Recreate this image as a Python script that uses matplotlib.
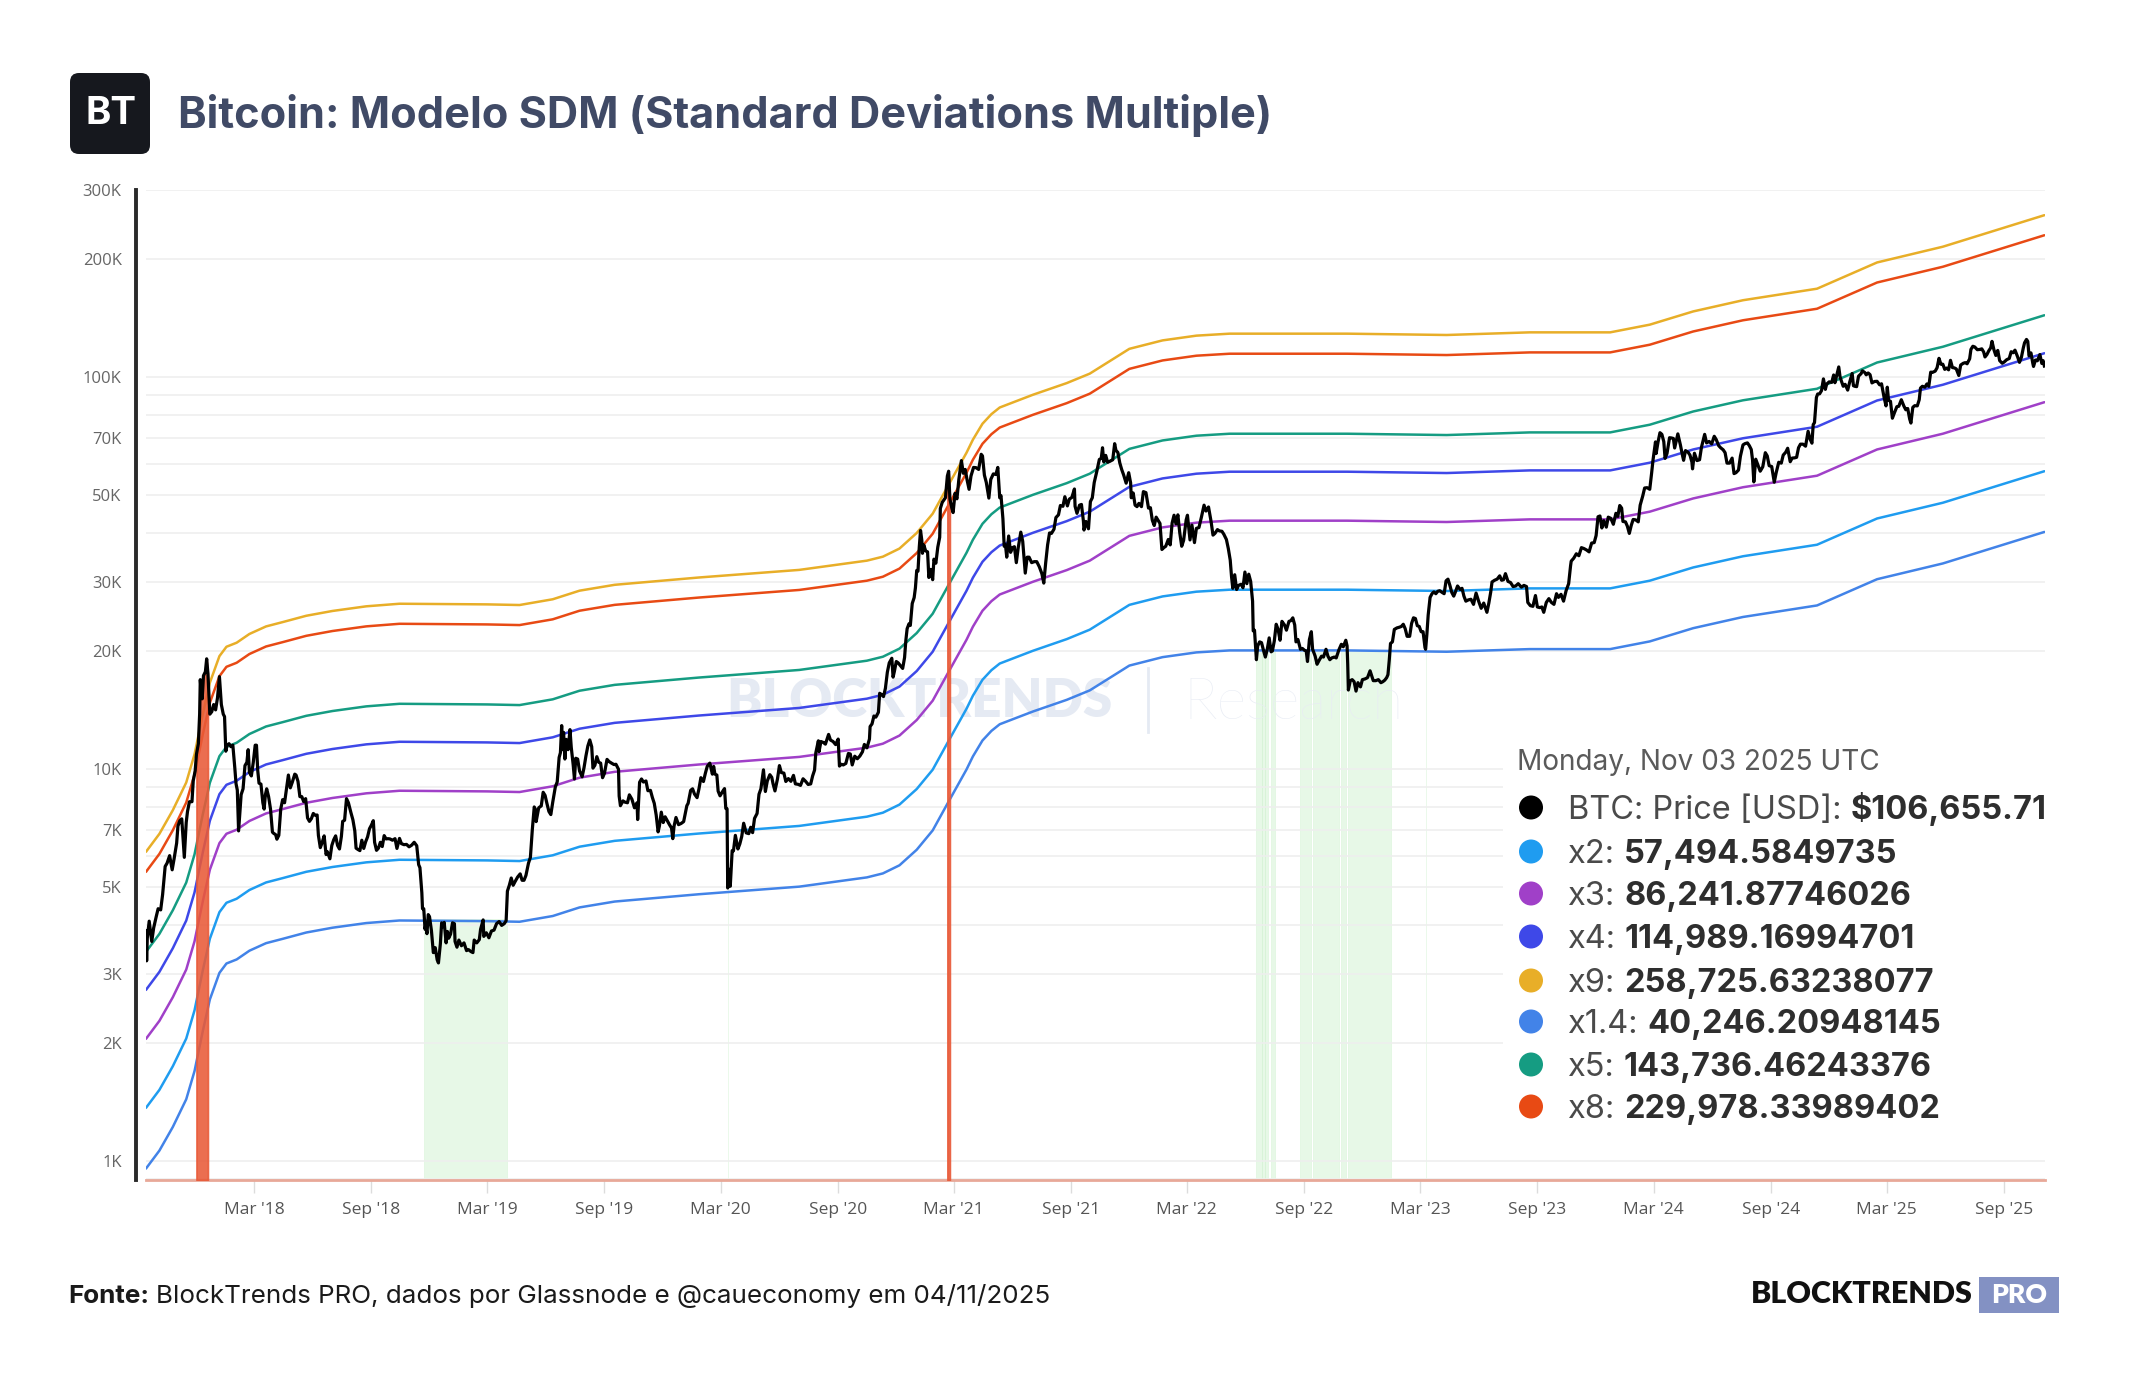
import matplotlib
matplotlib.use("Agg")
import matplotlib.pyplot as plt
import matplotlib.ticker as mticker
from matplotlib.patches import FancyBboxPatch, Rectangle, Ellipse
from matplotlib.lines import Line2D
import numpy as np
import pandas as pd

W, H, DPI = 2144, 1400, 100

# ---------------- DATA ----------------
btc_2017 = [("2017-09-13", 3870), ("2017-09-14", 3240), ("2017-09-15", 3700), ("2017-09-18", 4090), ("2017-09-22", 3630),
            ("2017-09-25", 3930), ("2017-09-29", 4200), ("2017-10-02", 4400), ("2017-10-06", 4370), ("2017-10-09", 4780),
            ("2017-10-12", 5430), ("2017-10-13", 5640), ("2017-10-16", 5750), ("2017-10-20", 6010), ("2017-10-24", 5530),
            ("2017-10-27", 5900), ("2017-10-31", 6470), ("2017-11-02", 7150), ("2017-11-05", 7380), ("2017-11-08", 7460),
            ("2017-11-12", 5950), ("2017-11-15", 7310), ("2017-11-17", 7790), ("2017-11-20", 8250), ("2017-11-24", 8250),
            ("2017-11-26", 9330), ("2017-11-29", 9890), ("2017-12-01", 10900), ("2017-12-04", 11600), ("2017-12-06", 13800),
            ("2017-12-07", 16900), ("2017-12-08", 16100), ("2017-12-10", 15100), ("2017-12-12", 17300), ("2017-12-15", 17700),
            ("2017-12-17", 19100), ("2017-12-19", 17500), ("2017-12-22", 13800), ("2017-12-25", 14000), ("2017-12-28", 14600),
            ("2017-12-31", 14150)]
btc_2018 = [("2018-01-03", 15200), ("2018-01-06", 17200), ("2018-01-09", 14600), ("2018-01-12", 13800), ("2018-01-14", 13600),
            ("2018-01-16", 11100), ("2018-01-18", 11500), ("2018-01-21", 11600), ("2018-01-24", 11400), ("2018-01-27", 11500),
            ("2018-01-30", 10100), ("2018-02-01", 9170), ("2018-02-03", 8830), ("2018-02-05", 6950), ("2018-02-07", 7700),
            ("2018-02-09", 8600), ("2018-02-12", 8900), ("2018-02-15", 10200), ("2018-02-18", 10400), ("2018-02-20", 11200),
            ("2018-02-22", 9800), ("2018-02-25", 9600), ("2018-02-28", 10400), ("2018-03-03", 11500), ("2018-03-05", 11500),
            ("2018-03-07", 9900), ("2018-03-09", 9200), ("2018-03-12", 9150), ("2018-03-15", 8200), ("2018-03-17", 7900),
            ("2018-03-19", 8600), ("2018-03-21", 8900), ("2018-03-24", 8500), ("2018-03-27", 7900), ("2018-03-30", 6900),
            ("2018-04-01", 6850), ("2018-04-04", 6800), ("2018-04-06", 6620), ("2018-04-09", 6770), ("2018-04-12", 7900),
            ("2018-04-15", 8350), ("2018-04-18", 8200), ("2018-04-21", 8900), ("2018-04-24", 9650), ("2018-04-27", 8950),
            ("2018-04-30", 9240), ("2018-05-04", 9700), ("2018-05-06", 9650), ("2018-05-09", 9300), ("2018-05-12", 8500),
            ("2018-05-15", 8500), ("2018-05-18", 8250), ("2018-05-21", 8400), ("2018-05-24", 7500), ("2018-05-27", 7350),
            ("2018-05-30", 7470), ("2018-06-02", 7700), ("2018-06-05", 7620), ("2018-06-08", 7630), ("2018-06-10", 6770),
            ("2018-06-13", 6300), ("2018-06-16", 6500), ("2018-06-19", 6750), ("2018-06-22", 6050), ("2018-06-24", 6150),
            ("2018-06-28", 5900), ("2018-07-01", 6380), ("2018-07-04", 6600), ("2018-07-07", 6750), ("2018-07-10", 6380),
            ("2018-07-13", 6250), ("2018-07-16", 6730), ("2018-07-18", 7350), ("2018-07-21", 7400), ("2018-07-24", 8400),
            ("2018-07-27", 8200), ("2018-07-31", 7730), ("2018-08-03", 7420), ("2018-08-06", 6950), ("2018-08-08", 6280),
            ("2018-08-11", 6230), ("2018-08-14", 6190), ("2018-08-17", 6580), ("2018-08-20", 6270), ("2018-08-23", 6520),
            ("2018-08-26", 6710), ("2018-08-29", 7040), ("2018-09-01", 7190), ("2018-09-04", 7380), ("2018-09-06", 6500),
            ("2018-09-09", 6200), ("2018-09-12", 6280), ("2018-09-15", 6500), ("2018-09-18", 6340), ("2018-09-21", 6760),
            ("2018-09-24", 6630), ("2018-09-27", 6640), ("2018-09-30", 6630), ("2018-10-04", 6580), ("2018-10-08", 6640),
            ("2018-10-11", 6270), ("2018-10-15", 6650), ("2018-10-18", 6450), ("2018-10-22", 6410), ("2018-10-26", 6420),
            ("2018-10-30", 6330), ("2018-11-03", 6390), ("2018-11-07", 6500), ("2018-11-11", 6370), ("2018-11-14", 5700),
            ("2018-11-16", 5600), ("2018-11-19", 4830), ("2018-11-20", 4400), ("2018-11-22", 4400), ("2018-11-24", 3900),
            ("2018-11-25", 4000), ("2018-11-27", 3800), ("2018-11-29", 4250), ("2018-12-01", 4200), ("2018-12-04", 3870),
            ("2018-12-07", 3400), ("2018-12-10", 3500), ("2018-12-13", 3260), ("2018-12-15", 3200), ("2018-12-18", 3580),
            ("2018-12-20", 4050), ("2018-12-22", 3960), ("2018-12-24", 4060), ("2018-12-27", 3600), ("2018-12-29", 3850),
            ("2018-12-31", 3700)]
btc_2019 = [("2019-01-03", 3790), ("2019-01-06", 4050), ("2019-01-09", 4030), ("2019-01-10", 3630), ("2019-01-13", 3510),
            ("2019-01-16", 3660), ("2019-01-20", 3540), ("2019-01-24", 3600), ("2019-01-28", 3440), ("2019-01-31", 3460),
            ("2019-02-04", 3420), ("2019-02-07", 3400), ("2019-02-09", 3660), ("2019-02-13", 3600), ("2019-02-17", 3670),
            ("2019-02-19", 3900), ("2019-02-23", 4120), ("2019-02-24", 3740), ("2019-02-28", 3820), ("2019-03-04", 3710),
            ("2019-03-08", 3860), ("2019-03-12", 3880), ("2019-03-16", 4030), ("2019-03-20", 4080), ("2019-03-24", 3990),
            ("2019-03-28", 4030), ("2019-03-31", 4100), ("2019-04-02", 4880), ("2019-04-05", 5050), ("2019-04-08", 5270),
            ("2019-04-11", 5050), ("2019-04-14", 5160), ("2019-04-18", 5300), ("2019-04-22", 5400), ("2019-04-25", 5200),
            ("2019-04-28", 5200), ("2019-05-01", 5350), ("2019-05-05", 5750), ("2019-05-08", 5950), ("2019-05-11", 7000),
            ("2019-05-14", 8000), ("2019-05-16", 7880), ("2019-05-17", 7340), ("2019-05-21", 7960), ("2019-05-25", 8050),
            ("2019-05-28", 8720), ("2019-05-31", 8560), ("2019-06-03", 8150), ("2019-06-06", 7790), ("2019-06-09", 7650),
            ("2019-06-12", 8230), ("2019-06-16", 8990), ("2019-06-19", 9270), ("2019-06-22", 10700), ("2019-06-24", 11000),
            ("2019-06-26", 12900), ("2019-06-27", 11200), ("2019-06-29", 12400), ("2019-07-01", 10600), ("2019-07-03", 11900),
            ("2019-07-06", 11200), ("2019-07-09", 12600), ("2019-07-11", 11350), ("2019-07-14", 10250), ("2019-07-16", 9430),
            ("2019-07-18", 10650), ("2019-07-21", 10600), ("2019-07-24", 9880), ("2019-07-28", 9550), ("2019-07-31", 10080),
            ("2019-08-03", 10800), ("2019-08-06", 11450), ("2019-08-09", 11860), ("2019-08-12", 11400), ("2019-08-14", 10050),
            ("2019-08-17", 10220), ("2019-08-20", 10750), ("2019-08-23", 10400), ("2019-08-26", 10350), ("2019-08-29", 9500),
            ("2019-09-01", 9750), ("2019-09-05", 10580), ("2019-09-08", 10450), ("2019-09-12", 10350), ("2019-09-16", 10260),
            ("2019-09-19", 10280), ("2019-09-23", 9980), ("2019-09-24", 8530), ("2019-09-26", 8060), ("2019-09-30", 8290),
            ("2019-10-03", 8230), ("2019-10-07", 8200), ("2019-10-10", 8590), ("2019-10-14", 8370), ("2019-10-18", 7960),
            ("2019-10-22", 8200), ("2019-10-23", 7430), ("2019-10-25", 8650), ("2019-10-26", 9250), ("2019-10-29", 9430),
            ("2019-11-01", 9260), ("2019-11-05", 9320), ("2019-11-08", 8800), ("2019-11-12", 8820), ("2019-11-15", 8460),
            ("2019-11-18", 8170), ("2019-11-21", 7630), ("2019-11-24", 6910), ("2019-11-26", 7150), ("2019-11-29", 7760),
            ("2019-12-02", 7300), ("2019-12-05", 7550), ("2019-12-09", 7350), ("2019-12-12", 7200), ("2019-12-15", 7070),
            ("2019-12-17", 6640), ("2019-12-19", 7150), ("2019-12-22", 7520), ("2019-12-26", 7210), ("2019-12-30", 7260)]
btc_2020 = [("2020-01-03", 7340), ("2020-01-06", 7760), ("2020-01-08", 8060), ("2020-01-10", 8170), ("2020-01-14", 8820),
            ("2020-01-17", 8900), ("2020-01-20", 8630), ("2020-01-24", 8450), ("2020-01-27", 8900), ("2020-01-30", 9500),
            ("2020-02-03", 9290), ("2020-02-06", 9750), ("2020-02-09", 10160), ("2020-02-13", 10350), ("2020-02-17", 9700),
            ("2020-02-19", 10150), ("2020-02-21", 9700), ("2020-02-24", 9650), ("2020-02-26", 8780), ("2020-02-29", 8540),
            ("2020-03-04", 8760), ("2020-03-07", 8910), ("2020-03-09", 7930), ("2020-03-11", 7910), ("2020-03-12", 4970),
            ("2020-03-13", 5560), ("2020-03-16", 5020), ("2020-03-19", 6190), ("2020-03-21", 6180), ("2020-03-24", 6770),
            ("2020-03-28", 6250), ("2020-03-31", 6440), ("2020-04-03", 6730), ("2020-04-06", 7270), ("2020-04-10", 6870),
            ("2020-04-14", 6840), ("2020-04-17", 7100), ("2020-04-20", 6880), ("2020-04-23", 7480), ("2020-04-27", 7700),
            ("2020-04-30", 8620), ("2020-05-03", 8900), ("2020-05-07", 9950), ("2020-05-10", 8760), ("2020-05-13", 9320),
            ("2020-05-17", 9670), ("2020-05-20", 9520), ("2020-05-22", 9170), ("2020-05-25", 8790), ("2020-05-29", 9440),
            ("2020-06-01", 10200), ("2020-06-04", 9790), ("2020-06-08", 9760), ("2020-06-11", 9290), ("2020-06-15", 9450),
            ("2020-06-19", 9300), ("2020-06-23", 9630), ("2020-06-26", 9160), ("2020-06-30", 9140), ("2020-07-04", 9080),
            ("2020-07-08", 9440), ("2020-07-12", 9300), ("2020-07-16", 9130), ("2020-07-20", 9160), ("2020-07-23", 9600),
            ("2020-07-26", 9930), ("2020-07-28", 11000), ("2020-08-01", 11800), ("2020-08-02", 11070), ("2020-08-05", 11750),
            ("2020-08-09", 11680), ("2020-08-12", 11570), ("2020-08-17", 12250), ("2020-08-20", 11850), ("2020-08-24", 11750),
            ("2020-08-28", 11540), ("2020-09-01", 11920), ("2020-09-03", 10170), ("2020-09-06", 10280), ("2020-09-09", 10240),
            ("2020-09-13", 10330), ("2020-09-17", 10950), ("2020-09-20", 10920), ("2020-09-23", 10240), ("2020-09-27", 10780),
            ("2020-10-01", 10620), ("2020-10-05", 10790), ("2020-10-09", 11060), ("2020-10-12", 11550), ("2020-10-16", 11320),
            ("2020-10-20", 11920), ("2020-10-21", 12830), ("2020-10-24", 13030), ("2020-10-27", 13650), ("2020-10-30", 13560),
            ("2020-11-03", 13950), ("2020-11-05", 15600), ("2020-11-08", 15480), ("2020-11-11", 15300), ("2020-11-14", 16070),
            ("2020-11-17", 17650), ("2020-11-20", 18650), ("2020-11-24", 19160), ("2020-11-26", 17150), ("2020-11-28", 17730),
            ("2020-12-01", 18800), ("2020-12-04", 18650), ("2020-12-08", 18300), ("2020-12-11", 18050), ("2020-12-14", 19250),
            ("2020-12-16", 21300), ("2020-12-18", 22800), ("2020-12-21", 23480), ("2020-12-23", 23240), ("2020-12-26", 26440),
            ("2020-12-29", 27360), ("2020-12-31", 29000)]
btc_2021 = [("2021-01-02", 32100), ("2021-01-04", 31970), ("2021-01-06", 36800), ("2021-01-08", 40600), ("2021-01-10", 38300),
            ("2021-01-11", 35500), ("2021-01-13", 37300), ("2021-01-16", 36000), ("2021-01-19", 35800), ("2021-01-21", 30800),
            ("2021-01-24", 32300), ("2021-01-27", 30400), ("2021-01-29", 34300), ("2021-02-01", 33500), ("2021-02-04", 36800),
            ("2021-02-07", 39000), ("2021-02-08", 46200), ("2021-02-11", 47900), ("2021-02-14", 48700), ("2021-02-16", 49200),
            ("2021-02-19", 55900), ("2021-02-21", 57500), ("2021-02-23", 48800), ("2021-02-26", 46300), ("2021-02-28", 45100),
            ("2021-03-03", 50500), ("2021-03-06", 48900), ("2021-03-09", 54800), ("2021-03-13", 61200), ("2021-03-16", 56800),
            ("2021-03-19", 58100), ("2021-03-22", 54500), ("2021-03-25", 51700), ("2021-03-28", 55900), ("2021-04-01", 58800),
            ("2021-04-05", 58700), ("2021-04-09", 58100), ("2021-04-13", 63500), ("2021-04-15", 62900), ("2021-04-18", 56200),
            ("2021-04-21", 53800), ("2021-04-25", 49100), ("2021-04-28", 54800), ("2021-05-02", 56600), ("2021-05-06", 56400),
            ("2021-05-09", 58800), ("2021-05-12", 49200), ("2021-05-14", 49800), ("2021-05-17", 43500), ("2021-05-19", 37000),
            ("2021-05-21", 37300), ("2021-05-23", 34700), ("2021-05-26", 39300), ("2021-05-29", 35700), ("2021-06-01", 36700),
            ("2021-06-04", 36900), ("2021-06-07", 33600), ("2021-06-10", 36700), ("2021-06-14", 40200), ("2021-06-17", 38100),
            ("2021-06-21", 31600), ("2021-06-24", 34700), ("2021-06-27", 34700), ("2021-07-01", 33600), ("2021-07-05", 33800),
            ("2021-07-09", 33800), ("2021-07-13", 32800), ("2021-07-17", 31500), ("2021-07-20", 29800), ("2021-07-23", 33600),
            ("2021-07-26", 37300), ("2021-07-29", 40000), ("2021-08-01", 39900), ("2021-08-05", 40900), ("2021-08-08", 43800),
            ("2021-08-12", 44500), ("2021-08-15", 47000), ("2021-08-19", 46800), ("2021-08-22", 49500), ("2021-08-26", 46900),
            ("2021-08-29", 48800), ("2021-09-02", 49300), ("2021-09-06", 51800), ("2021-09-07", 46800), ("2021-09-10", 44900),
            ("2021-09-14", 47100), ("2021-09-17", 47300), ("2021-09-20", 43000), ("2021-09-21", 40700), ("2021-09-24", 42800),
            ("2021-09-28", 41000), ("2021-10-01", 48100), ("2021-10-04", 49200), ("2021-10-07", 53800), ("2021-10-11", 57400),
            ("2021-10-15", 61600), ("2021-10-18", 62000), ("2021-10-20", 66000), ("2021-10-22", 60700), ("2021-10-25", 63100),
            ("2021-10-28", 60600), ("2021-11-01", 61000), ("2021-11-05", 61500), ("2021-11-08", 67600), ("2021-11-10", 65000),
            ("2021-11-13", 64200), ("2021-11-16", 60400), ("2021-11-19", 58100), ("2021-11-22", 56300), ("2021-11-26", 53600),
            ("2021-11-30", 57000), ("2021-12-03", 53700), ("2021-12-04", 49200), ("2021-12-07", 50600), ("2021-12-10", 47100),
            ("2021-12-13", 46700), ("2021-12-16", 47600), ("2021-12-20", 46700), ("2021-12-23", 51000), ("2021-12-27", 50700),
            ("2021-12-31", 46300)]
btc_2022 = [("2022-01-03", 46400), ("2022-01-06", 43100), ("2022-01-09", 41800), ("2022-01-12", 43900), ("2022-01-15", 43100),
            ("2022-01-18", 42300), ("2022-01-21", 36300), ("2022-01-24", 36700), ("2022-01-27", 37000), ("2022-01-31", 38500),
            ("2022-02-03", 37300), ("2022-02-06", 42400), ("2022-02-09", 44400), ("2022-02-12", 42200), ("2022-02-15", 44500),
            ("2022-02-18", 40000), ("2022-02-21", 37000), ("2022-02-24", 38300), ("2022-02-28", 43200), ("2022-03-02", 44400),
            ("2022-03-06", 38400), ("2022-03-09", 41900), ("2022-03-13", 37800), ("2022-03-16", 41100), ("2022-03-20", 41300),
            ("2022-03-24", 44000), ("2022-03-28", 47100), ("2022-03-31", 45500), ("2022-04-04", 46600), ("2022-04-08", 42800),
            ("2022-04-11", 39500), ("2022-04-14", 39900), ("2022-04-18", 40800), ("2022-04-21", 40500), ("2022-04-25", 40400),
            ("2022-04-28", 39700), ("2022-05-02", 38500), ("2022-05-05", 36500), ("2022-05-08", 34100), ("2022-05-10", 31000),
            ("2022-05-12", 28900), ("2022-05-15", 31300), ("2022-05-18", 28700), ("2022-05-21", 29400), ("2022-05-25", 29600),
            ("2022-05-28", 29000), ("2022-05-31", 31800), ("2022-06-03", 29700), ("2022-06-06", 31400), ("2022-06-09", 30100),
            ("2022-06-12", 26800), ("2022-06-13", 22500), ("2022-06-15", 22600), ("2022-06-18", 19000), ("2022-06-20", 20600),
            ("2022-06-23", 21100), ("2022-06-26", 21000), ("2022-06-29", 20100), ("2022-07-02", 19300), ("2022-07-05", 20200),
            ("2022-07-08", 21600), ("2022-07-11", 19900), ("2022-07-13", 20000), ("2022-07-16", 21200), ("2022-07-19", 23400),
            ("2022-07-22", 22700), ("2022-07-25", 21300), ("2022-07-28", 23800), ("2022-08-01", 23300), ("2022-08-04", 22600),
            ("2022-08-08", 23800), ("2022-08-11", 23900), ("2022-08-14", 24300), ("2022-08-17", 23300), ("2022-08-19", 21100),
            ("2022-08-22", 21400), ("2022-08-26", 20200), ("2022-08-29", 20300), ("2022-09-01", 20100), ("2022-09-04", 19990),
            ("2022-09-06", 18800), ("2022-09-09", 21400), ("2022-09-12", 22400), ("2022-09-14", 20200), ("2022-09-18", 19400),
            ("2022-09-21", 18500), ("2022-09-24", 18900), ("2022-09-28", 19400), ("2022-10-01", 19300), ("2022-10-05", 20200),
            ("2022-10-08", 19400), ("2022-10-11", 19000), ("2022-10-14", 19200), ("2022-10-18", 19300), ("2022-10-21", 19200),
            ("2022-10-25", 20100), ("2022-10-29", 20800), ("2022-11-01", 20500), ("2022-11-05", 21300), ("2022-11-07", 20600),
            ("2022-11-08", 18500), ("2022-11-09", 15900), ("2022-11-12", 16800), ("2022-11-15", 16900), ("2022-11-18", 16700),
            ("2022-11-21", 15800), ("2022-11-24", 16600), ("2022-11-28", 16200), ("2022-12-01", 16900), ("2022-12-05", 16970),
            ("2022-12-09", 17100), ("2022-12-13", 17800), ("2022-12-15", 17400), ("2022-12-18", 16800), ("2022-12-22", 16800),
            ("2022-12-26", 16900), ("2022-12-30", 16600)]
btc_2023 = [("2023-01-02", 16700), ("2023-01-05", 16850), ("2023-01-08", 17100), ("2023-01-10", 17400), ("2023-01-12", 18900),
            ("2023-01-14", 20900), ("2023-01-17", 21100), ("2023-01-20", 22700), ("2023-01-24", 22900), ("2023-01-28", 23000),
            ("2023-01-31", 23100), ("2023-02-03", 23400), ("2023-02-06", 22800), ("2023-02-09", 21800), ("2023-02-13", 21800),
            ("2023-02-16", 23500), ("2023-02-19", 24300), ("2023-02-22", 24200), ("2023-02-25", 23200), ("2023-02-28", 23100),
            ("2023-03-03", 22400), ("2023-03-06", 22400), ("2023-03-09", 20400), ("2023-03-10", 20200), ("2023-03-12", 22100),
            ("2023-03-14", 24700), ("2023-03-17", 27400), ("2023-03-20", 28000), ("2023-03-23", 28300), ("2023-03-26", 28000),
            ("2023-03-29", 28400), ("2023-04-01", 28500), ("2023-04-05", 28200), ("2023-04-08", 28000), ("2023-04-11", 30200),
            ("2023-04-14", 30500), ("2023-04-17", 29400), ("2023-04-20", 28200), ("2023-04-23", 27600), ("2023-04-26", 28400),
            ("2023-04-29", 29300), ("2023-05-03", 28700), ("2023-05-06", 28900), ("2023-05-09", 27600), ("2023-05-12", 26800),
            ("2023-05-16", 27000), ("2023-05-20", 27100), ("2023-05-24", 26300), ("2023-05-28", 28100), ("2023-06-01", 26800),
            ("2023-06-05", 25700), ("2023-06-09", 26500), ("2023-06-14", 25100), ("2023-06-17", 26500), ("2023-06-20", 28300),
            ("2023-06-22", 30000), ("2023-06-26", 30300), ("2023-06-30", 30500), ("2023-07-04", 31100), ("2023-07-07", 30300),
            ("2023-07-10", 30400), ("2023-07-13", 31500), ("2023-07-17", 30100), ("2023-07-21", 29900), ("2023-07-25", 29200),
            ("2023-07-29", 29300), ("2023-08-02", 29700), ("2023-08-07", 29100), ("2023-08-11", 29400), ("2023-08-15", 29200),
            ("2023-08-17", 26600), ("2023-08-21", 26100), ("2023-08-25", 26000), ("2023-08-29", 27700), ("2023-09-01", 25900),
            ("2023-09-05", 25800), ("2023-09-08", 25900), ("2023-09-11", 25100), ("2023-09-15", 26600), ("2023-09-19", 27200),
            ("2023-09-23", 26600), ("2023-09-27", 26300), ("2023-10-01", 28000), ("2023-10-04", 27400), ("2023-10-08", 27900),
            ("2023-10-12", 26800), ("2023-10-16", 28500), ("2023-10-20", 29700), ("2023-10-23", 33000), ("2023-10-24", 33900),
            ("2023-10-28", 34500), ("2023-11-01", 35400), ("2023-11-05", 35000), ("2023-11-09", 36700), ("2023-11-13", 36500),
            ("2023-11-17", 36200), ("2023-11-21", 35800), ("2023-11-25", 37700), ("2023-11-29", 37800), ("2023-12-02", 39400),
            ("2023-12-05", 44000), ("2023-12-08", 44200), ("2023-12-11", 41200), ("2023-12-14", 43000), ("2023-12-18", 41400),
            ("2023-12-21", 43900), ("2023-12-25", 43600), ("2023-12-29", 42100)]
btc_2024 = [("2024-01-02", 44900), ("2024-01-05", 44100), ("2024-01-08", 47000), ("2024-01-11", 46300), ("2024-01-13", 42800),
            ("2024-01-17", 42700), ("2024-01-20", 41600), ("2024-01-23", 39900), ("2024-01-26", 41800), ("2024-01-29", 43300),
            ("2024-02-02", 43200), ("2024-02-06", 42700), ("2024-02-09", 47100), ("2024-02-13", 49700), ("2024-02-16", 52100),
            ("2024-02-20", 52200), ("2024-02-24", 51700), ("2024-02-27", 57000), ("2024-02-29", 61200), ("2024-03-04", 68300),
            ("2024-03-05", 63800), ("2024-03-08", 68300), ("2024-03-11", 72100), ("2024-03-14", 71400), ("2024-03-17", 68400),
            ("2024-03-19", 62000), ("2024-03-22", 63800), ("2024-03-26", 70000), ("2024-03-29", 69900), ("2024-04-01", 69700),
            ("2024-04-03", 65900), ("2024-04-08", 71600), ("2024-04-12", 67100), ("2024-04-15", 63400), ("2024-04-17", 61300),
            ("2024-04-20", 64900), ("2024-04-24", 64300), ("2024-04-27", 63200), ("2024-04-30", 60700), ("2024-05-01", 58300),
            ("2024-05-04", 63900), ("2024-05-08", 61200), ("2024-05-12", 61500), ("2024-05-15", 66200), ("2024-05-20", 71400),
            ("2024-05-23", 67900), ("2024-05-27", 68500), ("2024-05-31", 67500), ("2024-06-04", 70600), ("2024-06-07", 69300),
            ("2024-06-11", 66800), ("2024-06-14", 66000), ("2024-06-18", 65200), ("2024-06-21", 64100), ("2024-06-24", 60300),
            ("2024-06-28", 60300), ("2024-07-02", 62100), ("2024-07-05", 56700), ("2024-07-08", 57000), ("2024-07-12", 57900),
            ("2024-07-15", 62800), ("2024-07-19", 67100), ("2024-07-22", 67600), ("2024-07-26", 67900), ("2024-07-29", 66800),
            ("2024-08-01", 65300), ("2024-08-03", 61400), ("2024-08-05", 54000), ("2024-08-08", 61700), ("2024-08-12", 59300),
            ("2024-08-15", 57500), ("2024-08-19", 59000), ("2024-08-23", 64100), ("2024-08-26", 62900), ("2024-08-29", 59400),
            ("2024-09-02", 59100), ("2024-09-06", 53900), ("2024-09-09", 57000), ("2024-09-13", 60600), ("2024-09-17", 60300),
            ("2024-09-20", 63200), ("2024-09-24", 64300), ("2024-09-27", 65800), ("2024-10-01", 60800), ("2024-10-04", 62100),
            ("2024-10-08", 62200), ("2024-10-11", 62400), ("2024-10-14", 66000), ("2024-10-17", 67400), ("2024-10-21", 67400),
            ("2024-10-25", 66600), ("2024-10-29", 72700), ("2024-11-01", 69500), ("2024-11-04", 67800), ("2024-11-06", 75600),
            ("2024-11-08", 76500), ("2024-11-11", 88700), ("2024-11-13", 90500), ("2024-11-16", 90600), ("2024-11-19", 92300),
            ("2024-11-22", 98900), ("2024-11-25", 93000), ("2024-11-27", 95900), ("2024-12-01", 97200), ("2024-12-05", 96900),
            ("2024-12-08", 101200), ("2024-12-10", 96700), ("2024-12-13", 101400), ("2024-12-16", 106100), ("2024-12-18", 100200),
            ("2024-12-20", 97800), ("2024-12-23", 94700), ("2024-12-26", 95800), ("2024-12-30", 92600)]
btc_2025 = [("2025-01-02", 96900), ("2025-01-06", 102100), ("2025-01-08", 95000), ("2025-01-10", 94700), ("2025-01-13", 94500),
            ("2025-01-16", 100500), ("2025-01-20", 102000), ("2025-01-22", 103700), ("2025-01-26", 102600), ("2025-01-28", 101300),
            ("2025-01-31", 102400), ("2025-02-03", 101400), ("2025-02-06", 96600), ("2025-02-10", 97400), ("2025-02-14", 97500),
            ("2025-02-18", 95500), ("2025-02-21", 96100), ("2025-02-25", 88700), ("2025-02-28", 84400), ("2025-03-02", 94200),
            ("2025-03-04", 87200), ("2025-03-07", 86700), ("2025-03-10", 78500), ("2025-03-13", 80900), ("2025-03-17", 84000),
            ("2025-03-20", 84200), ("2025-03-24", 87500), ("2025-03-28", 84300), ("2025-03-31", 82500), ("2025-04-03", 83100),
            ("2025-04-06", 78200), ("2025-04-08", 76300), ("2025-04-11", 83700), ("2025-04-14", 84500), ("2025-04-18", 84400),
            ("2025-04-21", 87500), ("2025-04-23", 93700), ("2025-04-26", 94700), ("2025-04-30", 94200), ("2025-05-03", 96000),
            ("2025-05-06", 94700), ("2025-05-09", 102900), ("2025-05-12", 102800), ("2025-05-16", 103500), ("2025-05-19", 105600),
            ("2025-05-22", 111600), ("2025-05-25", 107800), ("2025-05-28", 107800), ("2025-05-31", 104600), ("2025-06-03", 105400),
            ("2025-06-06", 104300), ("2025-06-09", 110300), ("2025-06-12", 105700), ("2025-06-15", 105500), ("2025-06-18", 104900),
            ("2025-06-22", 100900), ("2025-06-25", 107300), ("2025-06-29", 108400), ("2025-07-02", 108800), ("2025-07-05", 108100),
            ("2025-07-09", 111300), ("2025-07-11", 117600), ("2025-07-14", 119800), ("2025-07-17", 119300), ("2025-07-21", 117400),
            ("2025-07-25", 117600), ("2025-07-28", 118000), ("2025-07-31", 115800), ("2025-08-02", 112500), ("2025-08-05", 114100),
            ("2025-08-08", 116700), ("2025-08-11", 118700), ("2025-08-13", 123300), ("2025-08-16", 117400), ("2025-08-19", 113500),
            ("2025-08-22", 116900), ("2025-08-25", 110100), ("2025-08-29", 108400), ("2025-09-01", 109200), ("2025-09-05", 110700),
            ("2025-09-09", 111500), ("2025-09-12", 116000), ("2025-09-15", 115300), ("2025-09-18", 117100), ("2025-09-22", 112700),
            ("2025-09-25", 109000), ("2025-09-28", 112200), ("2025-10-01", 118600), ("2025-10-03", 122300), ("2025-10-06", 124700),
            ("2025-10-08", 123300), ("2025-10-10", 113200), ("2025-10-13", 115200), ("2025-10-16", 108200), ("2025-10-17", 106400),
            ("2025-10-20", 110500), ("2025-10-23", 110000), ("2025-10-27", 114100), ("2025-10-30", 108300), ("2025-11-01", 110100),
            ("2025-11-03", 106655.71)]

band_dates = ["2017-09-13", "2017-10-04", "2017-10-25", "2017-11-15", "2017-11-28", "2017-12-11", "2017-12-22",
              "2018-01-06", "2018-01-17", "2018-02-02", "2018-02-22", "2018-03-20", "2018-04-15", "2018-05-22",
              "2018-07-02", "2018-08-24", "2018-10-15", "2019-03-01", "2019-04-21", "2019-06-12", "2019-07-24",
              "2019-09-17", "2020-01-27", "2020-07-02", "2020-10-16", "2020-11-10", "2020-12-06", "2021-01-02",
              "2021-01-27", "2021-02-21", "2021-03-21", "2021-03-31", "2021-04-15", "2021-04-29", "2021-05-12",
              "2021-06-07", "2021-07-03", "2021-08-25", "2021-09-30", "2021-11-05", "2021-12-01", "2022-01-22",
              "2022-03-16", "2022-05-07", "2022-11-07", "2023-04-12", "2023-08-20", "2023-12-24", "2024-02-24",
              "2024-05-02", "2024-07-19", "2024-11-12", "2025-02-14", "2025-05-28", "2025-11-03"]
band_base = [683, 759, 872, 1026, 1211, 1533, 1844,
             2156, 2278, 2333, 2456, 2567, 2633, 2733,
             2811, 2889, 2933, 2922, 2911, 3011, 3167,
             3278, 3422, 3578, 3778, 3867, 4056, 4444,
             4978, 5900, 7122, 7689, 8444, 8933, 9289,
             9644, 10011, 10722, 11333, 12333, 13111, 13778,
             14167, 14333, 14333, 14222, 14444, 14444, 15111,
             16333, 17444, 18667, 21778, 23889, 28747.29]

band_names = ["x2", "x3", "x4", "x9", "x1.4", "x5", "x8"]
band_mults = [2, 3, 4, 9, 1.4, 5, 8]
band_colors = ["#1f9cf0", "#a040c8", "#3e48e8", "#e8ae28", "#4283e8", "#159c82", "#e84a14"]
band_last_values = ["57,494.5849735", "86,241.87746026", "114,989.16994701", "258,725.63238077",
                    "40,246.20948145", "143,736.46243376", "229,978.33989402"]
btc_last_value = "$106,655.71"
legend_date = "Monday, Nov 03 2025 UTC"

# highlighted periods: price above x8 (red, up to price) / price below x1.4 (green, up to x1.4 level)
red_spans = [("2017-12-01", "2017-12-21"), ("2021-02-19", "2021-02-23")]
green_spans = [("2018-11-23", "2019-04-01", 4150), ("2020-03-12", "2020-03-13", 4970),
               ("2022-06-17", "2022-06-26", 20100), ("2022-06-27", "2022-07-01", 20100),
               ("2022-07-02", "2022-07-06", 20100), ("2022-07-11", "2022-07-17", 20100),
               ("2022-08-26", "2022-09-12", 20100), ("2022-09-14", "2022-10-26", 20100),
               ("2022-10-28", "2022-11-05", 20100), ("2022-11-08", "2023-01-14", 20100),
               ("2023-03-10", "2023-03-11", 20100)]

ytick_values = [1000, 2000, 3000, 5000, 7000, 10000, 20000, 30000, 50000, 70000, 100000, 200000, 300000]
ytick_labels = ["1K", "2K", "3K", "5K", "7K", "10K", "20K", "30K", "50K", "70K", "100K", "200K", "300K"]
xtick_dates = ["2018-03-01", "2018-09-01", "2019-03-01", "2019-09-01", "2020-03-01", "2020-09-01",
               "2021-03-01", "2021-09-01", "2022-03-01", "2022-09-01", "2023-03-01", "2023-09-01",
               "2024-03-01", "2024-09-01", "2025-03-01", "2025-09-01"]
xtick_labels = ["Mar '18", "Sep '18", "Mar '19", "Sep '19", "Mar '20", "Sep '20", "Mar '21", "Sep '21",
                "Mar '22", "Sep '22", "Mar '23", "Sep '23", "Mar '24", "Sep '24", "Mar '25", "Sep '25"]

title_text = "Bitcoin: Modelo SDM (Standard Deviations Multiple)"
source_bold = "Fonte:"
source_text = "BlockTrends PRO, dados por Glassnode e @caueconomy em 04/11/2025"

# ---------------- BUILD ----------------
btc_all = btc_2017 + btc_2018 + btc_2019 + btc_2020 + btc_2021 + btc_2022 + btc_2023 + btc_2024 + btc_2025
price = pd.Series([v for _, v in btc_all], index=pd.to_datetime([d for d, _ in btc_all]))
bdates = pd.to_datetime(band_dates)
base = np.array(band_base, dtype=float)

YMIN, YMAX = 894, 300000

fig = plt.figure(figsize=(W / DPI, H / DPI), dpi=DPI)
fig.patch.set_facecolor("white")
ax = fig.add_axes([146 / W, 1 - 1180 / H, (2045 - 146) / W, (1180 - 190) / H])
ov = fig.add_axes([0, 0, 1, 1], zorder=5)
ov.set_xlim(0, W)
ov.set_ylim(H, 0)
ov.axis("off")

ax.set_yscale("log")
ax.set_ylim(YMIN, YMAX)
ax.set_xlim(pd.Timestamp("2017-09-13"), pd.Timestamp("2025-11-04"))

# spans
for s, e, top in green_spans:
    xs = pd.to_datetime([s, e])
    ax.fill_between(xs, [YMIN, YMIN], [top, top], color="#d0f2d0", alpha=0.5, lw=0.6,
                    edgecolor="#d0f2d0", zorder=0.4)
for s, e in red_spans:
    sel = price[(price.index >= pd.Timestamp(s)) & (price.index <= pd.Timestamp(e))]
    ax.fill_between(sel.index, YMIN, sel.values, color="#e95a38", alpha=0.88, lw=1.2,
                    edgecolor="#e95a38", zorder=3)

# bands
for name, m, c in zip(band_names, band_mults, band_colors):
    ax.plot(bdates, base * m, color=c, lw=1.8, zorder=2, solid_capstyle="round", solid_joinstyle="round")

# price
ax.plot(price.index, price.values, color="black", lw=2.3, zorder=4, solid_joinstyle="round")

# axes styling
for sp in ["top", "right"]:
    ax.spines[sp].set_visible(False)
ax.spines["left"].set_position(("outward", 7.5))
ax.spines["left"].set_color("#2a2a2a")
ax.spines["left"].set_linewidth(2.8)
ax.spines["bottom"].set_color("#e8a898")
ax.spines["bottom"].set_linewidth(2.0)

ax.yaxis.set_major_locator(mticker.FixedLocator(ytick_values))
ax.yaxis.set_major_formatter(mticker.FixedFormatter(ytick_labels))
ax.yaxis.set_minor_locator(mticker.LogLocator(base=10, subs=np.arange(1, 10)))
ax.yaxis.set_minor_formatter(mticker.NullFormatter())
ax.tick_params(axis="y", which="both", length=0, pad=10, labelsize=12, labelcolor="#666666")
ax.grid(True, axis="y", which="both", color="#eeeeee", lw=1.1, zorder=0.5)
ax.set_axisbelow(True)

ax.set_xticks(pd.to_datetime(xtick_dates))
ax.set_xticklabels(xtick_labels)
ax.tick_params(axis="x", length=9.5, width=1, color="#dcdcdc", pad=6, labelsize=12.5, labelcolor="#555555")
for lab in ax.get_xticklabels() + ax.get_yticklabels():
    lab.set_fontfamily("Open Sans")

R = fig.canvas.get_renderer()


def fit(t, target):
    for _ in range(4):
        w = t.get_window_extent(renderer=R).width
        t.set_fontsize(t.get_fontsize() * target / w)
    return t


def pair(x, yb, s1, s2, target, size, kw1, kw2):
    t1 = ov.text(x, yb, s1, fontsize=size, va="baseline", ha="left", **kw1)
    t2 = ov.text(x, yb, s2, fontsize=size, va="baseline", ha="left", **kw2)
    for _ in range(4):
        gap = 0.27 * size * DPI / 72
        w1 = t1.get_window_extent(renderer=R).width
        t2.set_x(x + w1 + gap)
        tot = w1 + gap + t2.get_window_extent(renderer=R).width
        size = size * target / tot
        t1.set_fontsize(size)
        t2.set_fontsize(size)
    gap = 0.27 * size * DPI / 72
    t2.set_x(x + t1.get_window_extent(renderer=R).width + gap)
    return size


# watermark (behind the lines)
wm1 = ax.text(726, 717, "BLOCKTRENDS", transform=ov.transData, fontsize=36, fontfamily="Lato",
              fontweight="heavy", color="#e5eaf3", va="baseline", ha="left", zorder=0.6)
fit(wm1, 386)
wm2 = ax.text(1183, 719, "Research", transform=ov.transData, fontsize=36, fontfamily="Lato",
              fontweight="light", color="#e8ecf4", va="baseline", ha="left", zorder=0.6)
fit(wm2, 220)
ax.add_line(Line2D([1147.5, 1147.5], [668, 732], transform=ov.transData, color="#e5eaf3", lw=2, zorder=0.6))

# logo box + title
ov.add_patch(FancyBboxPatch((70, 73), 80, 81, boxstyle="round,pad=0,rounding_size=9",
                            facecolor="#16181e", edgecolor="none"))
bt = ov.text(110.5, 114, "BT", fontsize=22, fontfamily="Inter", fontweight="bold", color="white",
             ha="center", va="center")
fit(bt, 51)
tt = ov.text(178.5, 128, title_text, fontsize=28, fontfamily="Inter", fontweight="bold",
             color="#404a66", ha="left", va="baseline")
fit(tt, 1094)

# legend block
ov.add_patch(Rectangle((1503, 728), 560, 425, facecolor="white", edgecolor="none"))
lt = ov.text(1517, 770, legend_date, fontsize=19, fontfamily="Inter", color="#5a5a5a",
             ha="left", va="baseline")
fit(lt, 363)
row_base = [819, 863, 905, 948, 992, 1033, 1076, 1118]
size = pair(1568, row_base[0], "BTC: Price [USD]:", btc_last_value, 479, 22,
            dict(fontfamily="Inter", color="#4a4a4a"),
            dict(fontfamily="Inter", color="#2e2e2e", fontweight="bold"))
ov.add_patch(Ellipse((1531, row_base[0] - 11.5), 24, 24, facecolor="black", edgecolor="none"))
for i, (name, val, c) in enumerate(zip(band_names, band_last_values, band_colors)):
    yb = row_base[i + 1]
    t1 = ov.text(1568, yb, name + ":", fontsize=size, fontfamily="Inter", color="#4a4a4a",
                 ha="left", va="baseline")
    w1 = t1.get_window_extent(renderer=R).width
    ov.text(1568 + w1 + 0.27 * size * DPI / 72, yb, val, fontsize=size, fontfamily="Inter",
            fontweight="bold", color="#2e2e2e", ha="left", va="baseline")
    ov.add_patch(Ellipse((1531, yb - 11.5), 24, 24, facecolor=c, edgecolor="none"))

# footer
pair(68, 1303, source_bold, source_text, 982, 17,
     dict(fontfamily="Inter", fontweight="bold", color="#1a1a1a"),
     dict(fontfamily="Inter", color="#1a1a1a"))
bl = ov.text(1751, 1303, "BLOCKTRENDS", fontsize=17, fontfamily="Lato", fontweight="heavy",
             color="#111111", ha="left", va="baseline")
fit(bl, 221)
ov.add_patch(Rectangle((1979, 1277), 80, 36, facecolor="#8391c3", edgecolor="none"))
pro = ov.text(2019, 1303, "PRO", fontsize=17, fontfamily="Lato", fontweight="heavy",
              color="white", ha="center", va="baseline")
fit(pro, 56)

fig.savefig("out.png", dpi=DPI, facecolor="white")
